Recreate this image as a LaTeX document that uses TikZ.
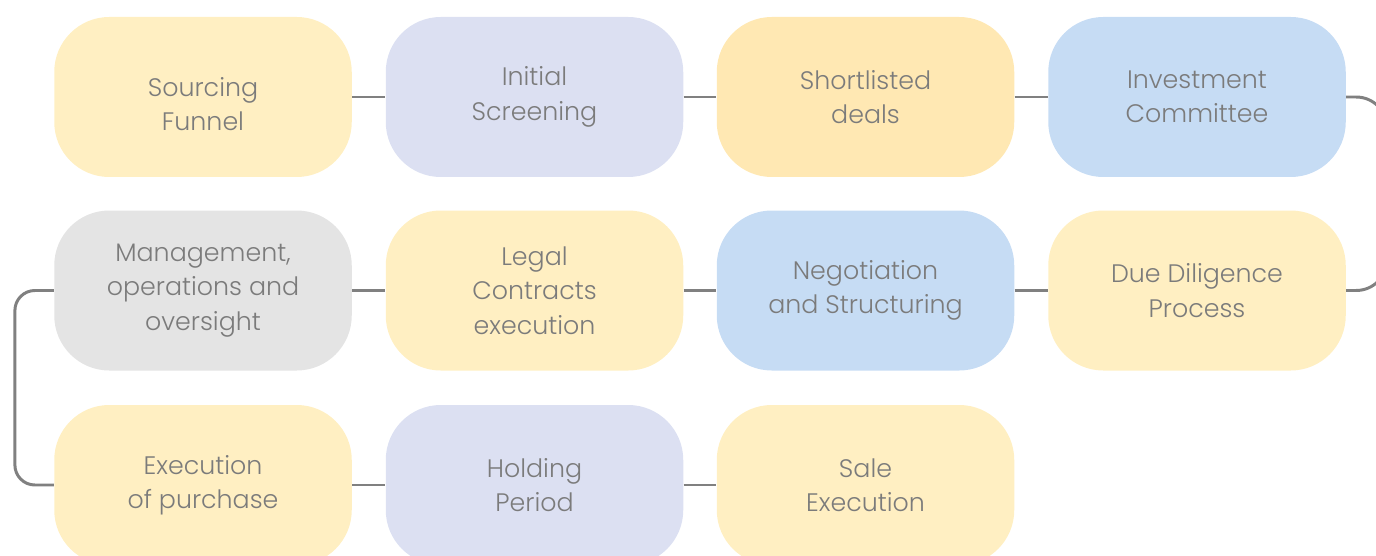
\documentclass[tikz,border=0pt]{standalone}
\usepackage{fontspec}
\setmainfont{Poppins Light}
\definecolor{pale}{HTML}{FFEFC2}
\definecolor{gold}{HTML}{FFE8B3}
\definecolor{lilac}{HTML}{DCE0F2}
\definecolor{sky}{HTML}{C6DCF4}
\definecolor{mist}{HTML}{E4E4E4}
\definecolor{txt}{HTML}{7B7B7B}
\definecolor{ln}{HTML}{808080}

\begin{document}
\begin{tikzpicture}[
  stage/.style={rectangle, rounded corners=1.1cm, minimum width=5.95cm,
    minimum height=3.2cm, align=center, text=txt,
    font=\fontsize{14.4}{19.6}\selectfont},
  link/.style={draw=ln, line width=1.7pt}]

\useasboundingbox (0,0) rectangle (27.52,-11.12);

\node[stage, fill=pale, text height=38.5pt, text depth=0pt] (src) at (4.06,-1.94) {Sourcing\\Funnel};
\node[stage, fill=lilac] (scr) at (10.69,-1.94) {Initial\\Screening};
\node[stage, fill=gold] (sho) at (17.31,-1.94) {Shortlisted\\deals};
\node[stage, fill=sky] (inv) at (23.94,-1.94) {Investment\\Committee};

\node[stage, fill=mist] (mgt) at (4.06,-5.81) {Management,\\operations and\\oversight};
\node[stage, fill=pale] (leg) at (10.69,-5.81) {Legal\\Contracts\\execution};
\node[stage, fill=sky] (neg) at (17.31,-5.81) {Negotiation\\and Structuring};
\node[stage, fill=pale] (due) at (23.94,-5.81) {Due Diligence\\Process};

\node[stage, fill=pale] (pur) at (4.06,-9.70) {Execution\\of purchase};
\node[stage, fill=lilac] (hol) at (10.69,-9.70) {Holding\\Period};
\node[stage, fill=pale] (sal) at (17.31,-9.70) {Sale\\Execution};

\draw[link] (src) -- (scr);
\draw[link] (scr) -- (sho);
\draw[link] (sho) -- (inv);
\draw[link, rounded corners=0.62cm] (inv.east) -- ++(0.82,0) |- (due.east);
\draw[link] (mgt) -- (leg);
\draw[link] (leg) -- (neg);
\draw[link] (neg) -- (due);
\draw[link, rounded corners=0.4cm] (mgt.west) -- ++(-0.78,0) |- (pur.west);
\draw[link] (pur) -- (hol);
\draw[link] (hol) -- (sal);

\end{tikzpicture}
\end{document}
